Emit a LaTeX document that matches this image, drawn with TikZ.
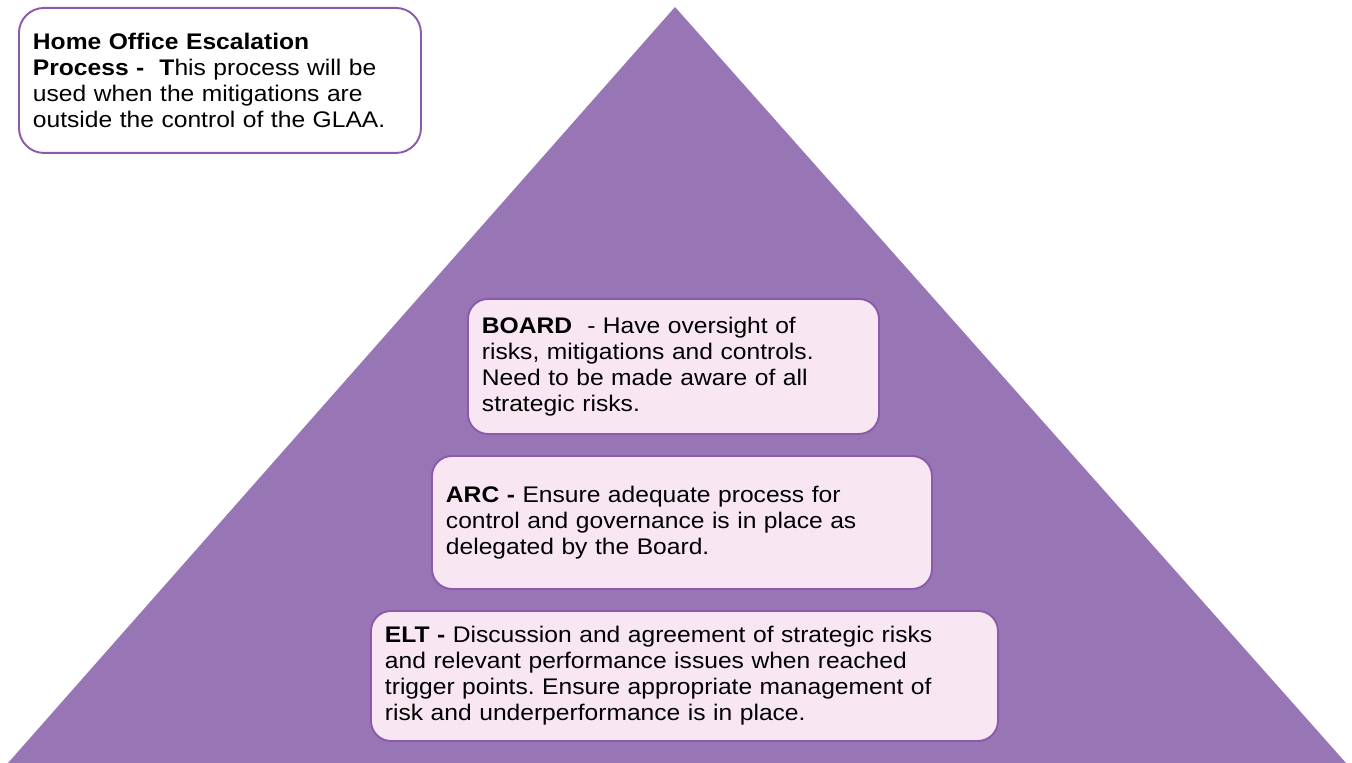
\documentclass[tikz,border=0pt]{standalone}
\usepackage{fontspec}
\setmainfont{Liberation Sans}[FakeStretch=1.09]
\usepackage{tikz}
\usetikzlibrary{positioning}

\definecolor{pyramid}{RGB}{152,117,181}
\definecolor{boxfill}{RGB}{248,231,243}
\definecolor{boxline}{RGB}{140,90,170}

\frenchspacing
\begin{document}
\begin{tikzpicture}[x=0.02cm,y=-0.02cm,
  level/.style={draw=boxline,line width=1.1pt,fill=boxfill,rounded corners=0.4cm,
    align=left,inner xsep=0.28cm,anchor=north west,
    font=\fontsize{12.85}{14.8}\selectfont},
  note/.style={level,fill=white,rounded corners=0.5cm}]
\useasboundingbox (0,0) rectangle (1352,763);

% pyramid
\fill [pyramid] (675,7) -- (1346,763) -- (8,763) -- cycle;

% escalation note
\node [note,minimum width=402*0.02cm,minimum height=145*0.02cm,text width=374*0.02cm] (home) at (18,7)
  {\textbf{Home Office Escalation}\\
   \textbf{Process -\ \ T}his process will be\\
   used when the mitigations are\\
   outside the control of the GLAA.};

% levels
\node [level,minimum width=411*0.02cm,minimum height=135*0.02cm,text width=383*0.02cm] (board) at (467,298)
  {\textbf{BOARD}\ \ - Have oversight of\\
   risks, mitigations and controls.\\
   Need to be made aware of all\\
   strategic risks.};
\node [level,minimum width=500*0.02cm,minimum height=133*0.02cm,text width=472*0.02cm] (arc) at (431,455)
  {\textbf{ARC -} Ensure adequate process for\\
   control and governance is in place as\\
   delegated by the Board.};
\node [level,minimum width=627*0.02cm,minimum height=130*0.02cm,text width=599*0.02cm] (elt) at (370,610)
  {\textbf{ELT -} Discussion and agreement of strategic risks\\
   and relevant performance issues when reached\\
   trigger points. Ensure appropriate management of\\
   risk and underperformance is in place.};
\end{tikzpicture}
\end{document}
